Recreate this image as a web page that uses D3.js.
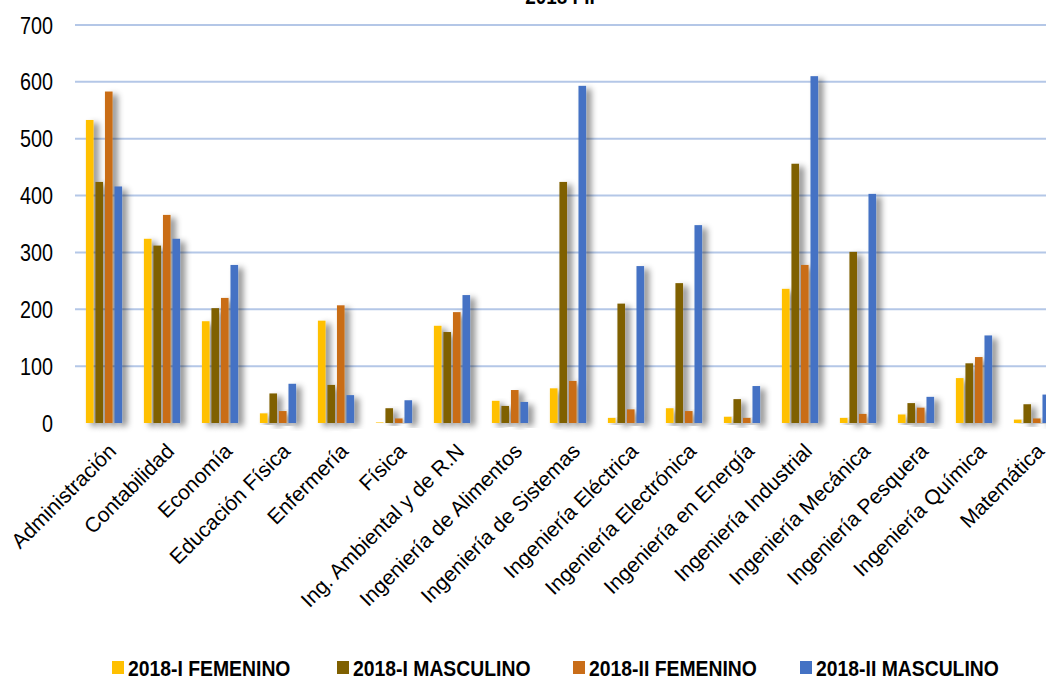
<!DOCTYPE html>
<html>
<head>
<meta charset="utf-8">
<script src="https://cdn.jsdelivr.net/npm/d3@7"></script>
<style>
  body { margin: 0; background: #fff; overflow: hidden; }
  svg { display: block; }
</style>
</head>
<body>
<div id="chart"></div>
<script>
// categories (careers)
var carreras = ["Administración", "Contabilidad", "Economía", "Educación Física", "Enfermería",
  "Física", "Ing. Ambiental y de R.N", "Ingeniería de Alimentos", "Ingeniería de Sistemas",
  "Ingeniería Eléctrica", "Ingeniería Electrónica", "Ingeniería en Energía", "Ingeniería Industrial",
  "Ingeniería Mecánica", "Ingeniería Pesquera", "Ingeniería Química", "Matemática"];

var series = ["2018-I FEMENINO", "2018-I MASCULINO", "2018-II FEMENINO", "2018-II MASCULINO"];

var fem2018I  = [533, 324, 179, 17, 180, 1, 171, 39, 61, 9, 26, 11, 236, 9, 15, 79, 6];
var masc2018I = [424, 312, 202, 52, 67, 26, 160, 30, 424, 210, 246, 42, 456, 301, 35, 105, 33];
var fem2018II = [583, 366, 220, 21, 207, 8, 195, 58, 74, 24, 21, 9, 278, 16, 27, 116, 8];
var masc2018II = [416, 324, 278, 69, 49, 40, 225, 37, 593, 276, 348, 65, 610, 403, 46, 154, 50];

var yTicks = [0, 100, 200, 300, 400, 500, 600, 700];
var colors = ["#FFC000", "#7F6000", "#C96D18", "#4472C4"];
var title = "2018 I-II";

var W = 1046, H = 677;
var svg = d3.select("#chart").append("svg")
  .attr("width", W)
  .attr("height", H);

// drop shadow like the office chart
var defs = svg.append("defs");
var f = defs.append("filter").attr("id", "shadow")
  .attr("x", "-50%").attr("y", "-10%").attr("width", "300%").attr("height", "130%");
f.append("feDropShadow")
  .attr("dx", 5).attr("dy", 3)
  .attr("stdDeviation", 3.2)
  .attr("flood-color", "#000")
  .attr("flood-opacity", 0.45);

var sans = "'Liberation Sans', Arial, sans-serif";
var narrowX = 0.86; // no Arial Narrow here, squeeze Arial instead

var x0 = d3.scaleBand()
  .domain(carreras)
  .range([75, 75 + 58.0 * carreras.length])
  .paddingInner(0.31)
  .paddingOuter(0.155);

var x1 = d3.scaleBand()
  .domain(series)
  .range([0, x0.bandwidth()])
  .padding(0.2);

var y = d3.scaleLinear()
  .domain([0, 700])
  .range([423, 25]);

// gridlines
svg.append("g")
  .selectAll("line")
  .data(yTicks.slice(1))
  .enter()
  .append("line")
  .attr("x1", 75).attr("x2", W)
  .attr("y1", d => y(d)).attr("y2", d => y(d))
  .attr("stroke", "#B4C7E7")
  .attr("stroke-width", 2);

// y axis labels
svg.append("g")
  .selectAll("text")
  .data(yTicks)
  .enter()
  .append("text")
  .attr("transform", d => "translate(53," + (y(d) + 8.5) + ") scale(" + narrowX + ",1)")
  .attr("text-anchor", "end")
  .style("font-family", sans)
  .style("font-size", "23px")
  .attr("fill", "#000")
  .text(d => d);

// bars
var rows = carreras.map(function(c, i) {
  return { carrera: c, values: [fem2018I[i], masc2018I[i], fem2018II[i], masc2018II[i]] };
});

var groups = svg.append("g")
  .selectAll("g")
  .data(rows)
  .enter()
  .append("g")
  .attr("transform", d => "translate(" + x0(d.carrera) + ",0)");

groups.selectAll("rect")
  .data(d => d.values.map((v, j) => ({ serie: series[j], value: v, color: colors[j] })))
  .enter()
  .append("rect")
  .attr("x", d => x1(d.serie))
  .attr("y", d => y(d.value))
  .attr("width", x1.bandwidth())
  .attr("height", d => y(0) - y(d.value))
  .attr("fill", d => d.color)
  .attr("filter", "url(#shadow)");

// baseline
svg.append("line")
  .attr("x1", 75).attr("x2", W)
  .attr("y1", y(0) + 1).attr("y2", y(0) + 1)
  .attr("stroke", "#D4D4D4")
  .attr("stroke-width", 3)
  .attr("filter", "url(#shadow)");

// category labels
svg.append("g")
  .selectAll("text")
  .data(carreras)
  .enter()
  .append("text")
  .attr("transform", d => "translate(" + (x0(d) + x0.bandwidth() / 2 + 3) + ",442) rotate(-45)")
  .attr("text-anchor", "end")
  .attr("dy", "0.7em")
  .style("font-family", sans)
  .style("font-size", "21px")
  .attr("fill", "#000")
  .text(d => d);

// title (cut off at the top in the original)
svg.append("text")
  .attr("transform", "translate(560,4) scale(" + narrowX + ",1)")
  .attr("text-anchor", "middle")
  .style("font-family", sans)
  .style("font-weight", "bold")
  .style("font-size", "22px")
  .text(title);

// legend
var legendX = [112, 337, 573, 800];
var legend = svg.append("g")
  .selectAll("g")
  .data(series)
  .enter()
  .append("g")
  .attr("transform", (d, i) => "translate(" + legendX[i] + ",661)");

legend.append("rect")
  .attr("width", 12).attr("height", 13)
  .attr("fill", (d, i) => colors[i]);

legend.append("text")
  .attr("transform", "translate(16,15) scale(0.88,1)")
  .style("font-family", sans)
  .style("font-weight", "bold")
  .style("font-size", "22px")
  .text(d => d);
</script>
</body>
</html>
